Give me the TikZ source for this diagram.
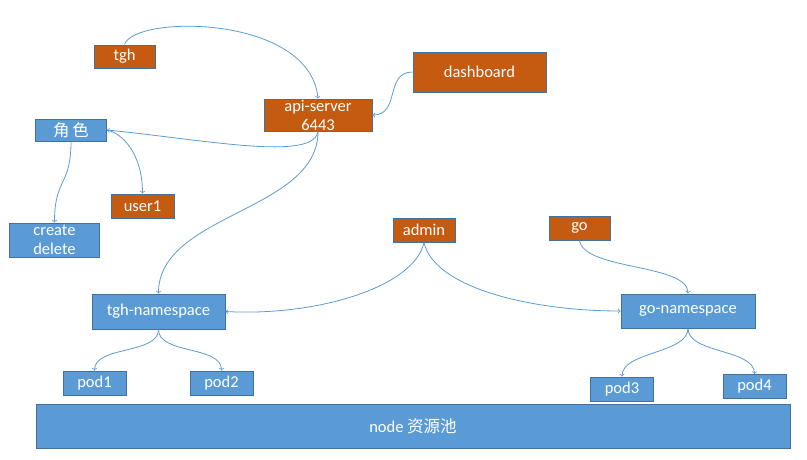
\documentclass[tikz,border=0pt]{standalone}
\usepackage{fontspec}
\setmainfont{Carlito}
\newfontfamily\cjk{Noto Sans CJK SC}
\usetikzlibrary{positioning}
\definecolor{boxblue}{HTML}{5B9BD5}
\definecolor{boxorange}{HTML}{C55A11}
\definecolor{boxline}{HTML}{41719C}
\definecolor{wire}{HTML}{5B9BD5}
\tikzset{
  box/.style={draw=boxline, line width=1pt, text=white, inner sep=0pt,
    align=center, font=\fontsize{16.5}{19}\selectfont},
  orangebox/.style={box, fill=boxorange},
  bluebox/.style={box, fill=boxblue},
  wire/.style={draw=wire, line width=.8pt, ->},
}

\begin{document}
\begin{tikzpicture}[x=1pt,y=-1pt]
  \useasboundingbox (0,0) rectangle (807,459);

  % users and servers
  \node[orangebox, minimum width=61, minimum height=23] (tgh) at (124.5,56.5) {tgh};
  \node[orangebox, minimum width=108, minimum height=32] (api) at (318,115) {api-server\\6443};
  \node[orangebox, minimum width=133, minimum height=40] (dash) at (479.5,72) {dashboard};
  \node[orangebox, minimum width=63, minimum height=24] (user1) at (142.5,206) {user1};
  \node[orangebox, minimum width=62, minimum height=24] (admin) at (424,230) {admin};
  \node[orangebox, minimum width=61, minimum height=24] (go) at (579.5,228) {go};

  % roles
  \node[bluebox, minimum width=71, minimum height=22] (role) at (71,130) {{\cjk 角\,色}};
  \node[bluebox, minimum width=90, minimum height=34] (verbs) at (54.5,240) {create\\delete};

  % namespaces and pods
  \node[bluebox, minimum width=133, minimum height=35] (tghns) at (158.5,311.5) {tgh-namespace};
  \node[bluebox, minimum width=134, minimum height=34] (gons) at (688,311) {go-namespace};
  \foreach \name/\x/\y in {pod1/94.5/383, pod2/221.5/383, pod3/622/389, pod4/754.5/386.5}
    \node[bluebox, minimum width=63, minimum height=24] (\name) at (\x,\y) {\name};
  \node[bluebox, minimum width=754, minimum height=44] (pool) at (413,426) {node {\cjk 资源池}};

  \draw[wire] (tgh.north) .. controls +(10,-30) and +(-8,-84) .. (api.north);
  \draw[wire] (dash.west) .. controls +(-28,0) and +(28,0) .. (api.east);
  \draw[wire] (api.south) .. controls +(-5,30) and +(100,10) .. (role.east);
  \draw[wire] (role.east) .. controls +(15,3) and +(0,-40) .. (user1.north);
  \draw[wire] (role.south) .. controls +(0,45) and +(0,-45) .. (verbs.north);
  \draw[wire] (api.south) .. controls +(0,80) and +(0,-80) .. (tghns.north);
  \draw[wire] (admin.south) .. controls +(-10,45) and +(90,5) .. (tghns.east);
  \draw[wire] (admin.south) .. controls +(10,45) and +(-90,0) .. (gons.west);
  \draw[wire] (go.south) .. controls +(5,30) and +(0,-30) .. (gons.north);
  \foreach \from/\to in {tghns/pod1, tghns/pod2, gons/pod3, gons/pod4}
    \draw[wire] (\from.south) .. controls +(0,25) and +(0,-25) .. (\to.north);
\end{tikzpicture}
\end{document}
